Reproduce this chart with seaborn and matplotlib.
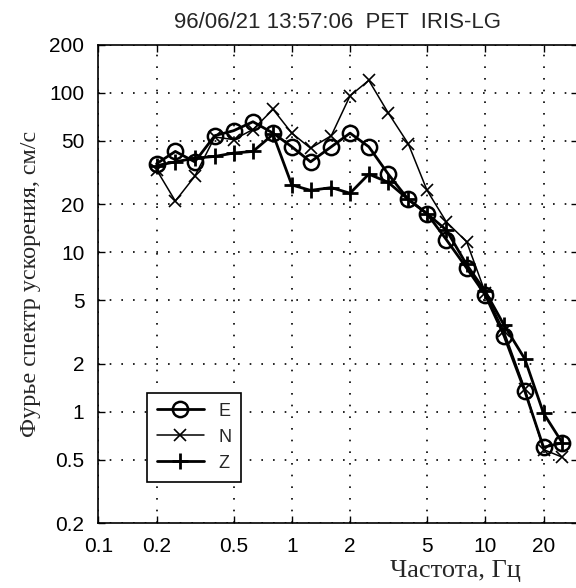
import numpy as np
import pandas as pd
import matplotlib
matplotlib.use("Agg")
import matplotlib.pyplot as plt
import seaborn as sns
from matplotlib.ticker import FixedLocator, FixedFormatter, NullLocator

# spectra
freq = [0.2, 0.25, 0.315, 0.4, 0.5, 0.63, 0.8, 1.0, 1.25, 1.6, 2.0, 2.5,
        3.15, 4.0, 5.0, 6.3, 8.0, 10.0, 12.5, 16.0, 20.0, 25.0]
E = [36, 43, 37, 54, 58, 66, 56, 46, 37, 46, 56, 46,
     31, 21.5, 17.5, 12, 8, 5.4, 3.0, 1.35, 0.6, 0.64]
N = [33, 21, 30, 53, 51, 59, 79, 56, 45, 54, 96, 120,
     75, 48, 24.5, 15.5, 11.7, 5.6, 3.2, 1.4, 0.58, 0.52]
Z = [35, 37, 39, 40, 42, 43, 55, 26.5, 24.5, 25.5, 23.5, 31,
     27.5, 21.5, 17.5, 13.8, 8.4, 5.7, 3.5, 2.15, 0.98, 0.64]

xticks = [0.1, 0.2, 0.5, 1, 2, 5, 10, 20]
xticklabels = ["0.1", "0.2", "0.5", "1", "2", "5", "10", "20"]
yticks = [0.2, 0.5, 1, 2, 5, 10, 20, 50, 100, 200]
yticklabels = ["0.2", "0.5", "1", "2", "5", "10", "20", "50", "100", "200"]

sns.set_style("ticks")
plt.rcParams['font.family'] = ['Liberation Sans', 'DejaVu Sans']
serif = ["Liberation Serif", "DejaVu Serif"]

fig = plt.figure(figsize=(5.76, 5.88), dpi=100)
ax = fig.add_axes([0.1707, 0.110, 0.8321, 0.8135])
ax.set_xscale("log")
ax.set_yscale("log")

df = pd.DataFrame({"f": freq, "E": E, "N": N, "Z": Z})
sns.lineplot(data=df, x="f", y="E", ax=ax, color="black", lw=2.0,
             marker="o", markersize=11, mfc="none", mec="black", mew=1.8, label="E")
sns.lineplot(data=df, x="f", y="N", ax=ax, color="black", lw=1.1,
             marker="x", markersize=8, mec="black", mew=1.2, label="N")
sns.lineplot(data=df, x="f", y="Z", ax=ax, color="black", lw=2.0,
             marker="+", markersize=12, mec="black", mew=2.0, label="Z")

ax.set_xlim(0.1, 30)
ax.set_ylim(0.2, 200)
ax.xaxis.set_major_locator(FixedLocator(xticks))
ax.xaxis.set_major_formatter(FixedFormatter(xticklabels))
ax.yaxis.set_major_locator(FixedLocator(yticks))
ax.yaxis.set_major_formatter(FixedFormatter(yticklabels))
ax.xaxis.set_minor_locator(NullLocator())
ax.yaxis.set_minor_locator(NullLocator())
ax.tick_params(direction="in", top=True, right=True, length=5, width=1,
               labelsize=15, colors="black", pad=10)
for s in ax.spines.values():
    s.set_color("black")
    s.set_linewidth(1.2)
ax.grid(True, which="major", color="black", linestyle=(0, (1, 6)), linewidth=1.2)

ax.set_title("96/06/21 13:57:06  PET  IRIS-LG", fontsize=16, pad=12)
ax.set_xlabel("Частота, Гц", family=serif, fontsize=19)
ax.xaxis.set_label_coords(0.745, -0.077)
ax.set_ylabel("Фурье спектр ускорения, см/с", family=serif, fontsize=17.4)
ax.yaxis.set_label_coords(-0.12, 0.5)

leg = ax.legend(loc="lower left", bbox_to_anchor=(0.101, 0.087), borderaxespad=0,
                fontsize=13, frameon=True, fancybox=False, edgecolor="black",
                handlelength=2.6, handletextpad=0.8, borderpad=0.55, labelspacing=0.5)
leg.get_frame().set_linewidth(1.2)
leg.get_frame().set_alpha(1)

fig.savefig("out.png", dpi=100)
